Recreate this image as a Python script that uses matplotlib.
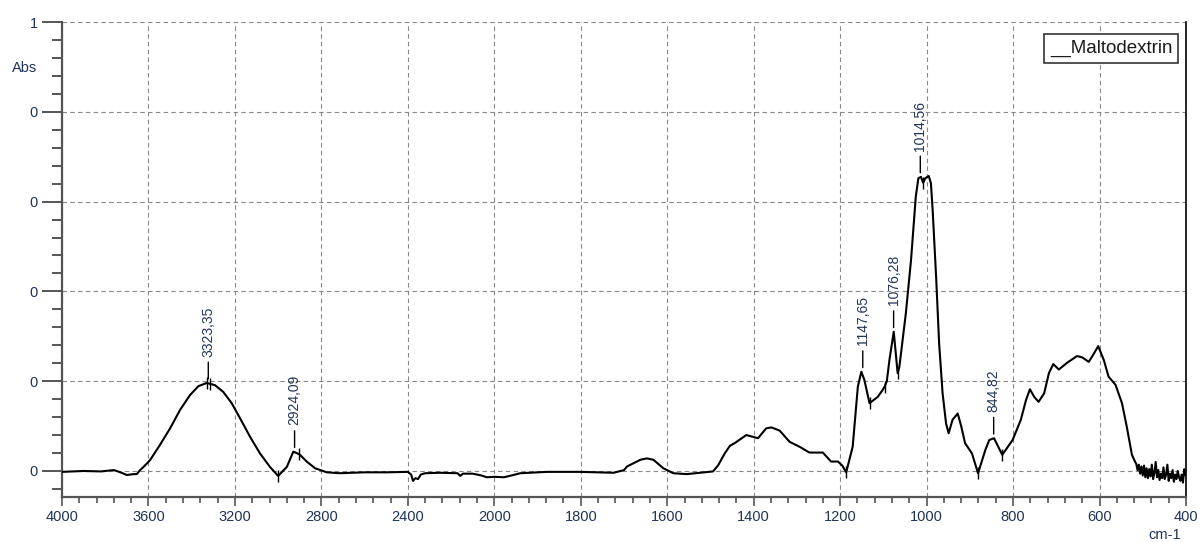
import numpy as np
import matplotlib
matplotlib.use("Agg")
import matplotlib.pyplot as plt

plt.rcParams['font.family'] = ['Liberation Sans', 'DejaVu Sans']

# FTIR spectrum of maltodextrin (wavenumber in cm-1, absorbance)
wavenumber = [4000, 3900, 3820, 3760, 3730, 3700, 3670, 3654, 3639, 3625,
              3593, 3547, 3500, 3454, 3408, 3369, 3330, 3292, 3254, 3215,
              3176, 3130, 3084, 3038, 3000, 2960, 2930, 2915, 2899, 2868,
              2829, 2775, 2714, 2600, 2500, 2400, 2385, 2376, 2365, 2353,
              2340, 2320, 2250, 2170, 2158, 2145, 2100, 2060, 2035, 2000,
              1978, 1960, 1940, 1878, 1800, 1724, 1700, 1693, 1662, 1647,
              1632, 1609, 1586, 1571, 1555, 1525, 1494, 1482, 1467, 1455,
              1444, 1417, 1390, 1371, 1359, 1340, 1317, 1294, 1271, 1240,
              1221, 1205, 1195, 1186, 1171, 1159, 1151, 1144, 1132, 1113,
              1102, 1097, 1092, 1086, 1076, 1067, 1063, 1048, 1036, 1025,
              1019, 1013, 1008, 1003, 995, 990, 986, 978, 971, 963,
              955, 949, 940, 928, 920, 911, 895, 881, 864, 855,
              844, 825, 801, 782, 770, 761, 751, 741, 728, 717,
              707, 694, 675, 652, 640, 625, 617, 603, 590, 579,
              563, 548, 537, 525, 518,
              515, 512, 509, 506, 503, 500, 497, 494, 491, 488,
              485, 482, 479, 476, 473, 470, 467, 464, 461, 458,
              455, 452, 449, 446, 443, 440, 437, 434, 431, 428,
              425, 422, 419, 416, 413, 410, 407, 404, 401]
absorbance = [-0.002, 0.000, -0.001, 0.002, -0.003, -0.009, -0.007, -0.007, 0.002, 0.008,
              0.024, 0.058, 0.095, 0.136, 0.169, 0.189, 0.196, 0.191, 0.176, 0.151,
              0.117, 0.076, 0.039, 0.009, -0.011, 0.009, 0.043, 0.040, 0.036, 0.021,
              0.006, -0.003, -0.005, -0.003, -0.003, -0.002, -0.008, -0.022, -0.016, -0.018,
              -0.008, -0.005, -0.004, -0.005, -0.011, -0.006, -0.006, -0.010, -0.014, -0.013,
              -0.014, -0.010, -0.005, -0.002, -0.002, -0.004, 0.002, 0.010, 0.025, 0.028,
              0.025, 0.006, -0.005, -0.006, -0.007, -0.004, -0.001, 0.013, 0.039, 0.056,
              0.062, 0.080, 0.073, 0.095, 0.097, 0.090, 0.065, 0.054, 0.041, 0.041,
              0.021, 0.021, 0.012, -0.003, 0.054, 0.188, 0.221, 0.203, 0.151, 0.165,
              0.180, 0.188, 0.200, 0.247, 0.310, 0.218, 0.232, 0.351, 0.470, 0.611,
              0.652, 0.655, 0.642, 0.652, 0.657, 0.641, 0.581, 0.433, 0.284, 0.173,
              0.106, 0.084, 0.114, 0.128, 0.100, 0.062, 0.039, -0.005, 0.047, 0.069,
              0.073, 0.036, 0.069, 0.114, 0.158, 0.182, 0.165, 0.154, 0.173, 0.218,
              0.238, 0.226, 0.241, 0.256, 0.253, 0.243, 0.255, 0.278, 0.247, 0.210,
              0.192, 0.151, 0.099, 0.036, 0.021,
              0.016, 0.002, 0.014, -0.006, 0.010, -0.010, 0.012, -0.014, 0.006, -0.016,
              0.004, -0.012, 0.014, -0.018, -0.004, 0.020, -0.014, 0.002, -0.020, -0.006,
              -0.016, 0.008, -0.018, -0.008, 0.014, -0.022, -0.006, -0.016, 0.002, -0.024,
              -0.008, -0.018, 0.000, -0.014, -0.022, -0.008, -0.026, 0.004, -0.010]

# labelled peaks
peak_pos = [3323.35, 2924.09, 1147.65, 1076.28, 1014.56, 844.82]
peak_txt = ['3323,35', '2924,09', '1147,65', '1076,28', '1014,56', '844,82']
peak_val = [0.196, 0.043, 0.221, 0.310, 0.655, 0.073]

# small picking marks along the trace
mark_pos = [3330, 3316, 3000, 2905, 1186, 1132, 1097, 1067, 1008, 881, 825]

y_ticks = [0.0, 0.2, 0.4, 0.6, 0.8, 1.0]
y_labels = ['0', '0', '0', '0', '0', '1']
x_ticks = [4000, 3600, 3200, 2800, 2400, 2000, 1800, 1600, 1400, 1200, 1000, 800, 600, 400]

txt_col = '#203458'
ax_col = '#555555'


# x axis is compressed by 2 above 2000 cm-1
def fwd(x):
    x = np.asarray(x, dtype=float)
    return np.where(x > 2000, 1000 + x / 2.0, x)


def inv(u):
    u = np.asarray(u, dtype=float)
    return np.where(u > 2000, 2.0 * (u - 1000), u)


fig = plt.figure(figsize=(12, 5.42), dpi=100)
ax = fig.add_axes([0.0517, 0.083, 0.9366, 0.8764])
ax.set_xscale('function', functions=(fwd, inv))

ax.plot(wavenumber, absorbance, color='black', lw=1.5, zorder=3,
        solid_joinstyle='round', solid_capstyle='round')

mark_val = np.interp(mark_pos, wavenumber[::-1], absorbance[::-1])
ax.plot(mark_pos, mark_val, ls='none', marker='|', ms=9, mew=1.0, color='black', zorder=4)

for xp, t, v in zip(peak_pos, peak_txt, peak_val):
    ax.annotate(t, xy=(xp, v), xytext=(0, 19), textcoords='offset points',
                rotation=90, ha='center', va='bottom', fontsize=10, color=txt_col,
                arrowprops=dict(arrowstyle='-', color='black', lw=1.0,
                                shrinkA=2, shrinkB=3))

ax.set_xlim(4000, 400)
ax.set_ylim(-0.058, 1.0)

ax.set_xticks(x_ticks)
ax.set_xticklabels([str(t) for t in x_ticks])
minor_x = list(np.arange(4000, 2000, -80)) + list(np.arange(2000, 399, -40))
ax.set_xticks(minor_x, minor=True)
ax.set_yticks(y_ticks)
ax.set_yticklabels(y_labels)
ax.set_yticks(np.arange(-0.04, 1.0, 0.04), minor=True)

ax.tick_params(axis='y', which='major', direction='out', length=14.5, width=1.4,
               color=ax_col, labelsize=10.5, labelcolor=txt_col, pad=3)
ax.tick_params(axis='y', which='minor', direction='out', length=7.2, width=1.4, color=ax_col)
ax.tick_params(axis='x', which='major', direction='out', length=6.5, width=1.2,
               color=ax_col, labelsize=10.5, labelcolor=txt_col, pad=3)
ax.tick_params(axis='x', which='minor', direction='out', length=4.3, width=1.2, color=ax_col)

ax.grid(True, which='major', color='#888888', lw=0.8, ls=(0, (4, 3)))

ax.spines['top'].set_visible(False)
ax.spines['left'].set_color(ax_col)
ax.spines['left'].set_linewidth(1.6)
ax.spines['bottom'].set_color(ax_col)
ax.spines['bottom'].set_linewidth(1.6)
ax.spines['right'].set_color('black')
ax.spines['right'].set_linewidth(1.2)

fig.text(25 / 1200, 1 - 68 / 542, 'Abs', ha='center', va='center', fontsize=10.5, color=txt_col)
fig.text(1165 / 1200, 1 - 535 / 542, 'cm-1', ha='center', va='center', fontsize=10.5, color=txt_col)

ax.text(0.988, 0.962, '__Maltodextrin', transform=ax.transAxes, ha='right', va='top',
        fontsize=13.5, color='#1a1a1a',
        bbox=dict(boxstyle='square,pad=0.3', fc='white', ec='#333333', lw=1.2), zorder=5)

fig.savefig('out.png', dpi=100)
